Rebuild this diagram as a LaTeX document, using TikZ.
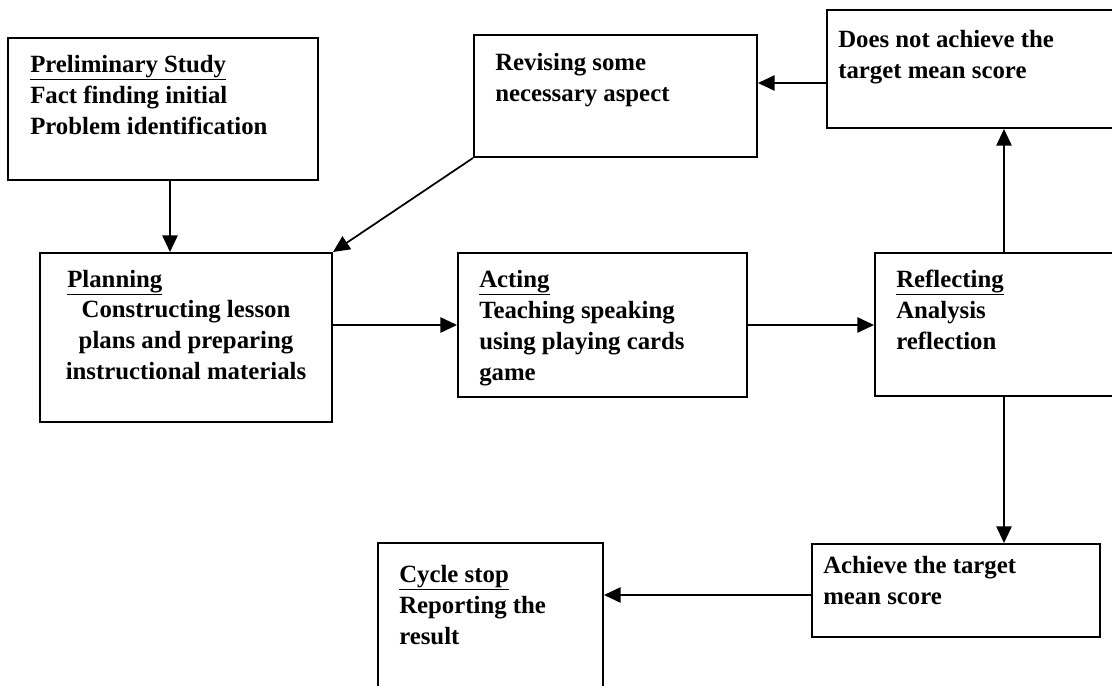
\documentclass[tikz,border=0pt]{standalone}
\usepackage{fontspec}
\setmainfont{Liberation Serif}
\usetikzlibrary{arrows.meta,fit}
\begin{document}
\begin{tikzpicture}[x=0.75pt,y=-0.75pt,
  box/.style={draw, line width=1.5pt, inner sep=0pt},
  arr/.style={line width=1.3pt, -{Triangle[length=12.5pt,width=11.5pt]}},
  txt/.style={inner sep=0pt, align=left, font=\fontsize{18.6}{23.25}\selectfont\bfseries, anchor=north west},
]
\useasboundingbox (0,0) rectangle (1112,685);
% boxes
\node[box, fit={(8,38)(318,180)}] (pre) {};
\node[box, fit={(474,35)(757,157)}] (rev) {};
\node[box, fit={(827,10)(1120,128)}] (dna) {};
\node[box, fit={(40,253)(332,422)}] (plan) {};
\node[box, fit={(458,253)(747,397)}] (act) {};
\node[box, fit={(875,253)(1120,396)}] (refl) {};
\node[box, fit={(812,544)(1100,637)}] (ach) {};
\node[box, fit={(378,543)(603,700)}] (cyc) {};
% texts
\node[txt] (preT) at (30,50.3) {\strut\underline{Preliminary Study}\\Fact finding initial\\Problem identification};
\node[txt] (revT) at (495,48.3) {\strut Revising some\\necessary aspect};
\node[txt] (dnaT) at (838,25.3) {\strut Does not achieve the\\target mean score};
\node[txt] (planH) at (67,265.3) {\strut\underline{Planning}};
\node[txt, align=center, anchor=north] (planT) at (186,295.3) {\strut Constructing lesson\\plans and preparing\\instructional materials};
\node[txt] (actT) at (479,265.3) {\strut\underline{Acting}\\Teaching speaking\\using playing cards\\game};
\node[txt] (reflT) at (896,265.3) {\strut\underline{Reflecting}\\Analysis\\reflection};
\node[txt] (achT) at (823,551.3) {\strut Achieve the target\\mean score};
\node[txt] (cycT) at (399,560.3) {\strut\underline{Cycle stop}\\Reporting the\\result};
% helper coordinates
\coordinate (xa) at (170,0);
\coordinate (ya) at (0,83);
\coordinate (xb) at (1004,0);
\coordinate (yb) at (0,595);
% connectors
\draw[arr] (pre.south -| xa) -- (plan.north -| xa);
\draw[arr] (rev.south west) -- (plan.north east);
\draw[arr] (dna.west |- ya) -- (rev.east |- ya);
\draw[arr] (plan.east |- act.west) -- (act.west);
\draw[arr] (act.east) -- (refl.west |- act.east);
\draw[arr] (refl.north -| xb) -- (dna.south -| xb);
\draw[arr] (refl.south -| xb) -- (ach.north -| xb);
\draw[arr] (ach.west |- yb) -- (cyc.east |- yb);
\end{tikzpicture}
\end{document}
